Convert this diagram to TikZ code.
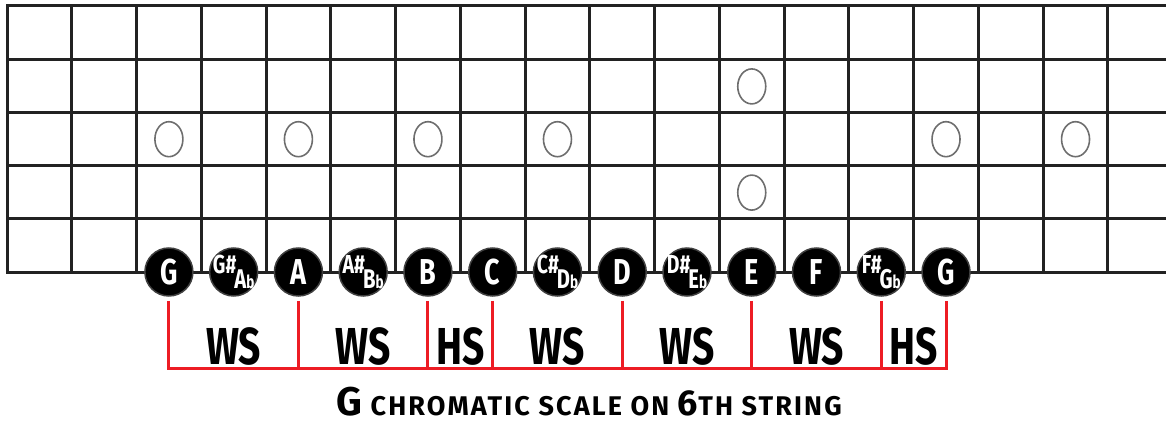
\documentclass[tikz,border=0pt]{standalone}
\usepackage{fontspec}
\usetikzlibrary{calc}
\newfontfamily\comic[FakeStretch=0.75]{Fira Sans}
\newfontfamily\comicwide[LetterSpace=8]{Fira Sans}
\definecolor{FretLine}{RGB}{34,34,34}
\definecolor{InlayGray}{RGB}{110,110,110}
\definecolor{StepRed}{RGB}{237,28,36}
\tikzset{
  fret/.style={draw=FretLine,line width=3pt,line cap=rect},
  inlay/.style={draw=InlayGray,line width=1.6pt},
  note/.style={circle,fill=black,draw=black!75,line width=1.5pt,minimum size=48pt,inner sep=0pt,text=white,font={\comic\bfseries\fontsize{36}{36}\selectfont}},
  bracket/.style={draw=StepRed,line width=3pt},
  stepname/.style={anchor=base,yshift=4pt,font={\comic\bfseries\fontsize{52}{52}\selectfont}},
  title/.style={anchor=base,font={\comicwide\bfseries\fontsize{27}{27}\selectfont}},
}
% sharp above left, flat below right (no size, so the circle keeps 48pt)
\newcommand{\enh}[2]{\smash{\makebox[0pt]{\raisebox{-1pt}{\fontsize{26}{26}\selectfont#1\#}\kern-2pt\raisebox{-16pt}{\fontsize{27}{27}\selectfont#2\fontsize{18}{18}\selectfont b}}}}

\begin{document}
\begin{tikzpicture}[x=1pt,y=-1pt]
  \useasboundingbox (0,0) rectangle (1166,428);
  % strings and frets
  \foreach \s in {0,...,5}
    \draw[fret] (7,6+53.2*\s) -- (1166,6+53.2*\s);
  \foreach \f in {0,...,17}
    \draw[fret] (7+64.76*\f,6) -- (7+64.76*\f,272);
  % inlays
  \foreach \j in {3,5,7,9,15,17}
    \draw[inlay] (7+64.76*\j-32.38,139.2) ellipse [x radius=14pt,y radius=17.5pt];
  \draw[inlay] (7+64.76*12-32.38,86.4) ellipse [x radius=14pt,y radius=17.5pt];
  \draw[inlay] (7+64.76*12-32.38,192.6) ellipse [x radius=14pt,y radius=17.5pt];
  % notes on the 6th string
  \foreach \lbl [count=\i] in {G,{\enh{G}{A}},A,{\enh{A}{B}},B,C,{\enh{C}{D}},D,{\enh{D}{E}},E,F,{\enh{F}{G}},G}
    \node[note] (n\i) at (7+64.76*\i+97.14,272) {\lbl};
  % steps
  \coordinate (base) at (0,368);
  \draw[bracket] ([yshift=-4pt]n1.south) -- (n1 |- base) -- (n13 |- base) -- ([yshift=-4pt]n13.south);
  \foreach \i in {3,5,6,8,10,12}
    \draw[bracket] ([yshift=-4pt]n\i.south) -- (n\i |- base);
  \foreach \a/\b/\s in {1/3/WS,3/5/WS,5/6/HS,6/8/WS,8/10/WS,10/12/WS,12/13/HS}
    \node[stepname] (s\a) at ($(n\a |- base)!0.5!(n\b |- base)$) {\s};
  \node[title] (title) at (589,415) {{\fontsize{40}{40}\selectfont G} CHROMATIC SCALE ON {\fontsize{36}{36}\selectfont 6}TH STRING};
\end{tikzpicture}
\end{document}
